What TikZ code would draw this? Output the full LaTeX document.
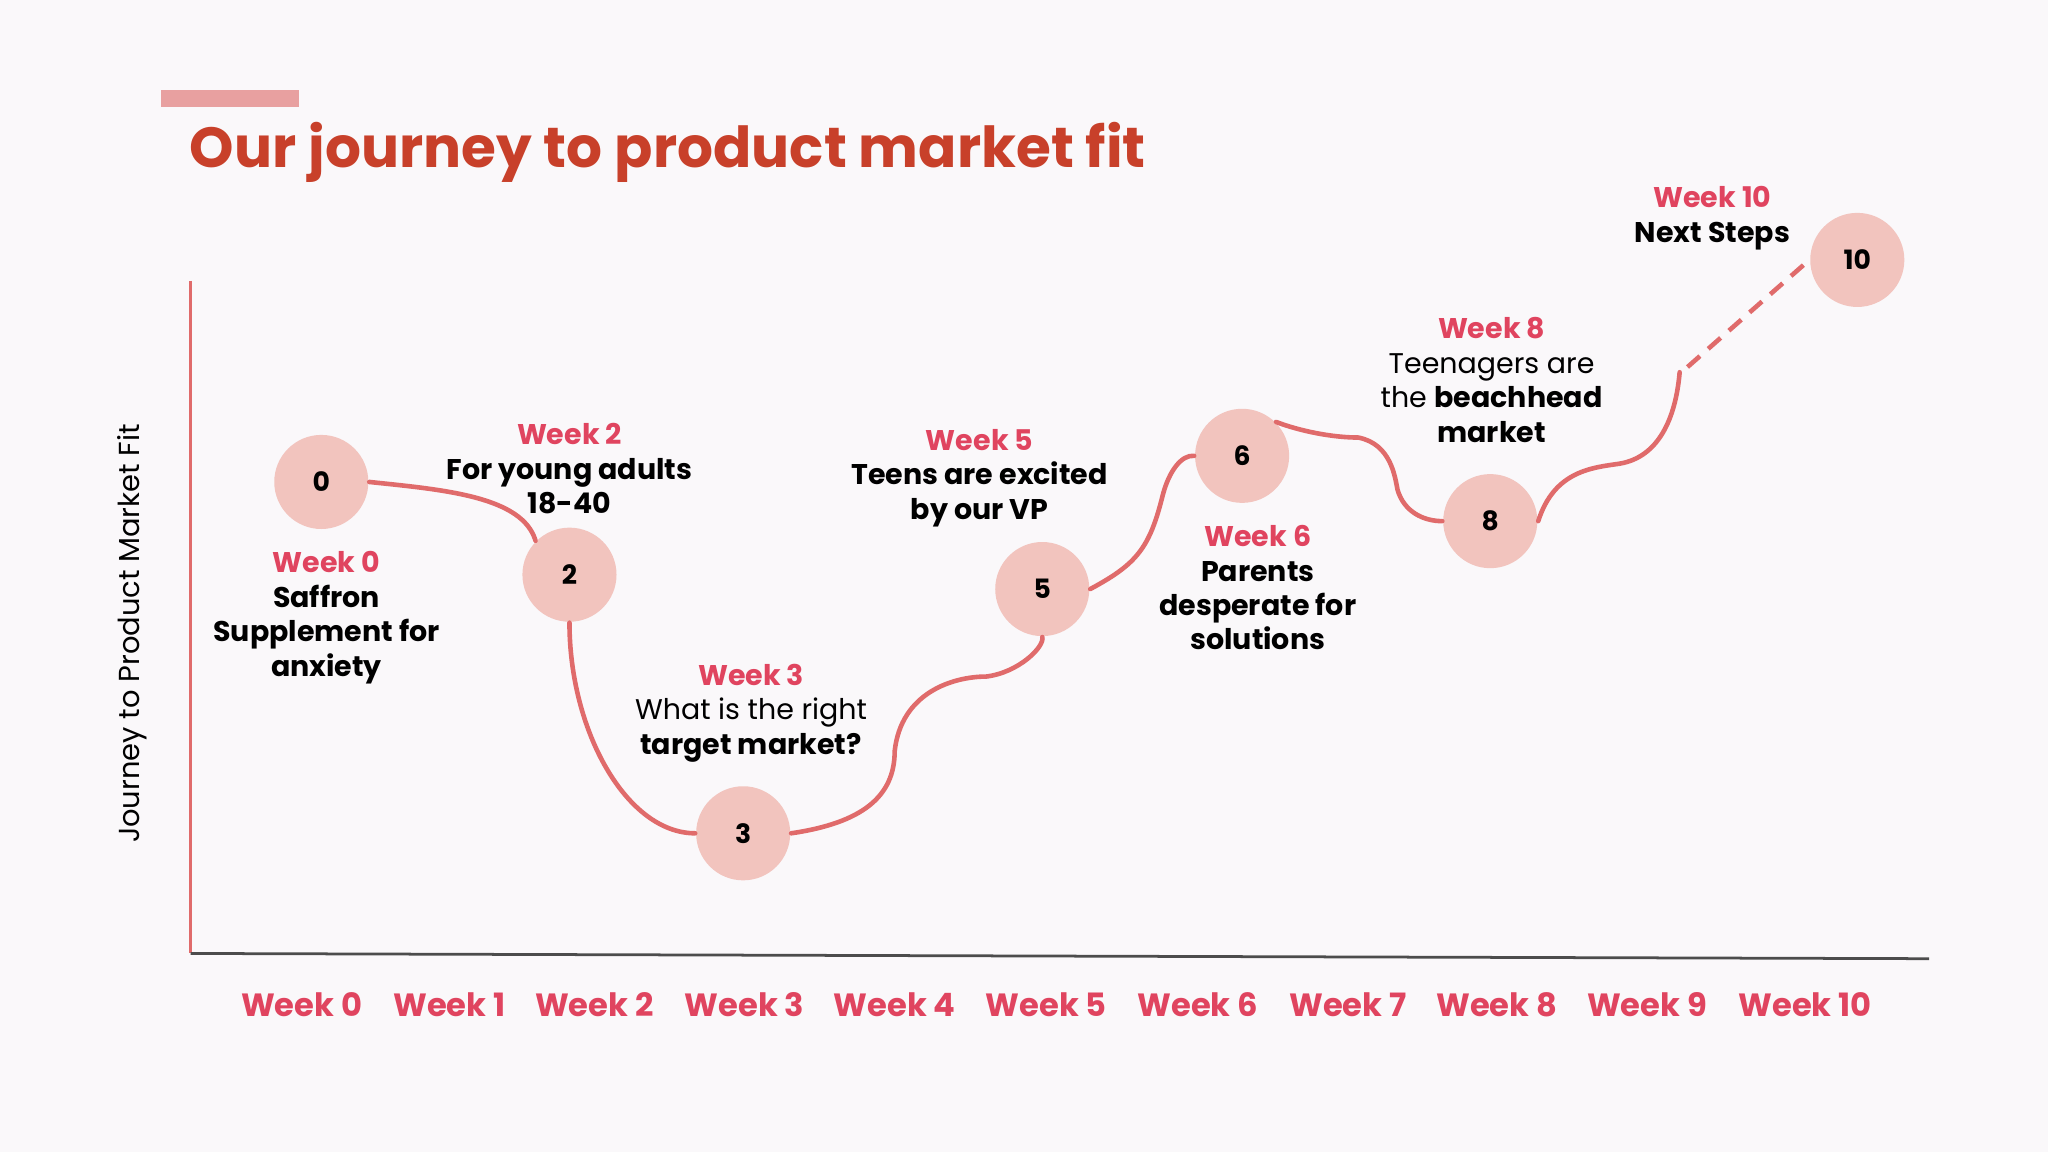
\documentclass[tikz,border=0pt]{standalone}
\usepackage{fontspec}
\setmainfont{Poppins}
\definecolor{bg}{HTML}{FAF8FA}
\definecolor{ttl}{HTML}{C8402A}
\definecolor{pk}{HTML}{E0445F}
\definecolor{cf}{HTML}{F2C4BE}
\definecolor{ln}{HTML}{E06B6B}
\definecolor{bar}{HTML}{E8A0A0}
\begin{document}
\begin{tikzpicture}[x=0.01cm,y=-0.01cm,
  pt/.style={circle,fill=cf,minimum size=0.72cm,inner sep=0pt,font=\fontsize{5.8}{7}\selectfont\bfseries},
  lbl/.style={align=center,font=\fontsize{6.2}{7.5}\selectfont},
  wk/.style={text=pk,font=\fontsize{7}{9}\selectfont\bfseries},
  path/.style={ln,line width=1pt,line cap=round}]
\fill[bg] (0,0) rectangle (1568,882);
\useasboundingbox (0,0) rectangle (1568,882);
\fill[bar] (123,69) rectangle (229,82);
\node[anchor=west,text=ttl,font=\fontsize{12.3}{15}\selectfont\bfseries] (title) at (133,117) {Our journey to product market fit};
\coordinate (ya) at (146,215); \coordinate (o) at (146,730); \coordinate (xa) at (1477,734);
\draw[ln,line width=0.6pt] (ya) -- (o);
\draw[black!70,line width=0.6pt] (o) -- (xa);
\node[rotate=90,font=\fontsize{6.3}{8}\selectfont] (yl) at (101,485) {Journey to Product Market Fit};
\foreach \i/\x in {0/231,1/344,2/455,3/570,4/685,5/801,6/917,7/1032,8/1146,9/1261,10/1382}
  \node[wk] (w\i) at (\x,769) {Week \i};
\node[pt] (n0) at (246,369) {0};
\node[pt] (n2) at (436,440) {2};
\node[pt] (n3) at (569,638) {3};
\node[pt] (n5) at (798,451) {5};
\node[pt] (n6) at (951,349) {6};
\node[pt] (n8) at (1141,399) {8};
\node[pt] (n10) at (1422,199) {10};
\coordinate (c9) at (1286,285);
\draw[path] (n0.east) .. controls (340,375) and (400,380) .. (n2.north west);
\draw[path] (n2.south) .. controls (436,560) and (480,638) .. (n3.west);
\draw[path] (n3.east) .. controls (660,630) and (685,610) .. (685,575) .. controls (690,530) and (730,518) .. (755,518) .. controls (780,515) and (800,495) .. (n5.south);
\draw[path] (n5.east) .. controls (870,432) and (880,420) .. (890,380) .. controls (895,360) and (905,348) .. (n6.west);
\draw[path] (n6.north east) .. controls (995,330) and (1020,335) .. (1040,335) .. controls (1065,340) and (1068,365) .. (1070,375) .. controls (1075,392) and (1090,399) .. (n8.west);
\draw[path] (n8.east) .. controls (1190,360) and (1220,358) .. (1240,355) .. controls (1270,350) and (1283,320) .. (c9);
\draw[path,line cap=butt,dash pattern=on 3.6pt off 2.4pt] (1292,281) -- (n10.west);
\node[lbl] (t0) at (250,473) {\textcolor{pk}{\bfseries Week 0}\\\bfseries Saffron\\\bfseries Supplement for\\\bfseries anxiety};
\node[lbl] (t2) at (436,359) {\textcolor{pk}{\bfseries Week 2}\\\bfseries For young adults\\\bfseries 18-40};
\node[lbl] (t3) at (575,546) {\textcolor{pk}{\bfseries Week 3}\\What is the right\\\bfseries target market?};
\node[lbl] (t5) at (750,366) {\textcolor{pk}{\bfseries Week 5}\\\bfseries Teens are excited\\\bfseries by our VP};
\node[lbl] (t6) at (963,450) {\textcolor{pk}{\bfseries Week 6}\\\bfseries Parents\\\bfseries desperate for\\\bfseries solutions};
\node[lbl] (t8) at (1142,291) {\textcolor{pk}{\bfseries Week 8}\\Teenagers are\\the \textbf{beachhead}\\\bfseries market};
\node[lbl] (t10) at (1311,167) {\textcolor{pk}{\bfseries Week 10}\\\bfseries Next Steps};
\end{tikzpicture}
\end{document}
